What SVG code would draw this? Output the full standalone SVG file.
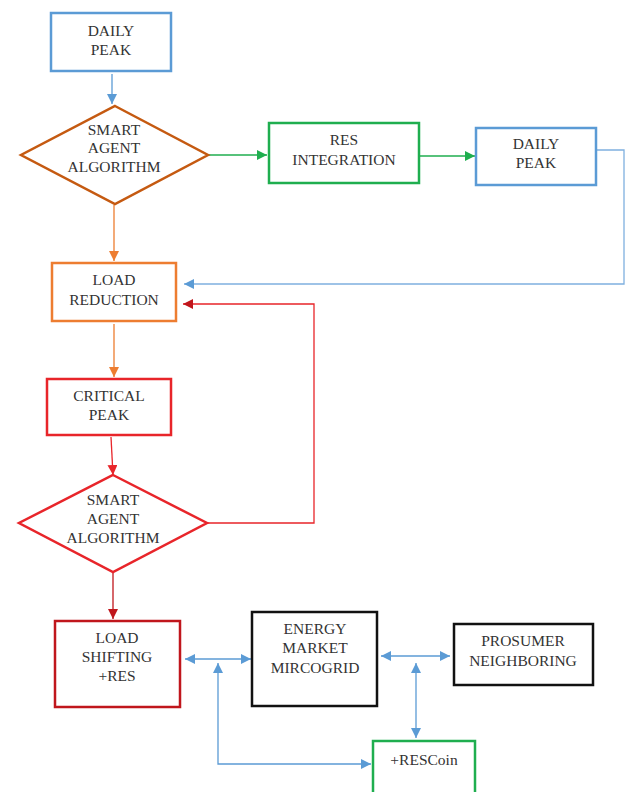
<svg xmlns="http://www.w3.org/2000/svg" width="625" height="792" viewBox="0 0 625 792">
<defs>
<style>
text{font-family:"Liberation Serif","Times New Roman",serif;font-size:15.5px;fill:#333;text-anchor:middle}
.box{fill:#fff;stroke-width:2.5}
.c{fill:none;stroke-width:1.3}
</style>
<marker id="ab" markerWidth="10" markerHeight="10" refX="10" refY="5" orient="auto-start-reverse" markerUnits="userSpaceOnUse" viewBox="0 0 10 10"><path d="M0,0L10,5L0,10z" fill="#5b9bd5"/></marker>
<marker id="ag" markerWidth="10" markerHeight="10" refX="10" refY="5" orient="auto" markerUnits="userSpaceOnUse" viewBox="0 0 10 10"><path d="M0,0L10,5L0,10z" fill="#1fae4f"/></marker>
<marker id="ao" markerWidth="10" markerHeight="10" refX="10" refY="5" orient="auto" markerUnits="userSpaceOnUse" viewBox="0 0 10 10"><path d="M0,0L10,5L0,10z" fill="#ed7d31"/></marker>
<marker id="ar" markerWidth="10" markerHeight="10" refX="10" refY="5" orient="auto" markerUnits="userSpaceOnUse" viewBox="0 0 10 10"><path d="M0,0L10,5L0,10z" fill="#e8252a"/></marker>
<marker id="ad" markerWidth="10" markerHeight="10" refX="10" refY="5" orient="auto" markerUnits="userSpaceOnUse" viewBox="0 0 10 10"><path d="M0,0L10,5L0,10z" fill="#c0161c"/></marker>
</defs>
<g id="connectors">
<path class="c" stroke="#5b9bd5" d="M112,74V104" marker-end="url(#ab)"/>
<path class="c" stroke="#1fae4f" d="M208,155H267" marker-end="url(#ag)"/>
<path class="c" stroke="#1fae4f" d="M420,156H475" marker-end="url(#ag)"/>
<path class="c" stroke="#7fb0df" d="M597,150H624V284H184" marker-end="url(#ab)"/>
<path class="c" stroke="#ed7d31" d="M114,205V261" marker-end="url(#ao)"/>
<path class="c" stroke="#ed7d31" d="M114,324V377" marker-end="url(#ao)"/>
<path class="c" stroke="#e8252a" d="M111,437L113,475" marker-end="url(#ar)"/>
<path class="c" stroke="#e8252a" d="M207,523H314V304H183" marker-end="url(#ad)"/>
<path class="c" stroke="#c0161c" d="M113,573V619" marker-end="url(#ad)"/>
<path class="c" stroke="#5b9bd5" d="M185,659H251" marker-start="url(#ab)" marker-end="url(#ab)"/>
<path class="c" stroke="#5b9bd5" d="M218,663V764H371" marker-start="url(#ab)" marker-end="url(#ab)"/>
<path class="c" stroke="#5b9bd5" d="M381,656H450" marker-start="url(#ab)" marker-end="url(#ab)"/>
<path class="c" stroke="#5b9bd5" d="M416,663V738" marker-start="url(#ab)" marker-end="url(#ab)"/>
</g>
<g id="daily-peak-1"><rect class="box" stroke="#5b9bd5" x="51" y="13" width="120" height="58"/><text x="111" y="36">DAILY</text><text x="111" y="55">PEAK</text></g>
<g id="smart-agent-1"><path class="box" stroke="#c55a11" stroke-width="2" d="M115,106L208,155L115,204L21,155z"/><text x="114" y="135">SMART</text><text x="114" y="153">AGENT</text><text x="114" y="172">ALGORITHM</text></g>
<g id="res-integration"><rect class="box" stroke="#1fae4f" x="269" y="123" width="150" height="60"/><text x="344" y="145">RES</text><text x="344" y="165">INTEGRATION</text></g>
<g id="daily-peak-2"><rect class="box" stroke="#5b9bd5" x="476" y="128" width="120" height="57"/><text x="536" y="149">DAILY</text><text x="536" y="168">PEAK</text></g>
<g id="load-reduction"><rect class="box" stroke="#ed7d31" x="52" y="263" width="124" height="58"/><text x="114" y="285">LOAD</text><text x="114" y="305">REDUCTION</text></g>
<g id="critical-peak"><rect class="box" stroke="#e8252a" x="47" y="379" width="124" height="56"/><text x="109" y="401">CRITICAL</text><text x="109" y="420">PEAK</text></g>
<g id="smart-agent-2"><path class="box" stroke="#e8252a" stroke-width="2" d="M113,475L207,523L113,572L19,523z"/><text x="113" y="505">SMART</text><text x="113" y="524">AGENT</text><text x="113" y="543">ALGORITHM</text></g>
<g id="load-shifting"><rect class="box" stroke="#c0161c" x="55" y="621" width="125" height="86"/><text x="117" y="643">LOAD</text><text x="117" y="662">SHIFTING</text><text x="117" y="681">+RES</text></g>
<g id="energy-market"><rect class="box" stroke="#111" x="252" y="612" width="125" height="94"/><text x="315" y="634">ENERGY</text><text x="315" y="653">MARKET</text><text x="315" y="673">MIRCOGRID</text></g>
<g id="prosumer"><rect class="box" stroke="#111" x="454" y="624" width="139" height="61"/><text x="523" y="646">PROSUMER</text><text x="523" y="666">NEIGHBORING</text></g>
<g id="rescoin"><rect class="box" stroke="#1fae4f" x="373" y="741" width="102" height="56"/><text x="424" y="765">+RESCoin</text></g>
</svg>
